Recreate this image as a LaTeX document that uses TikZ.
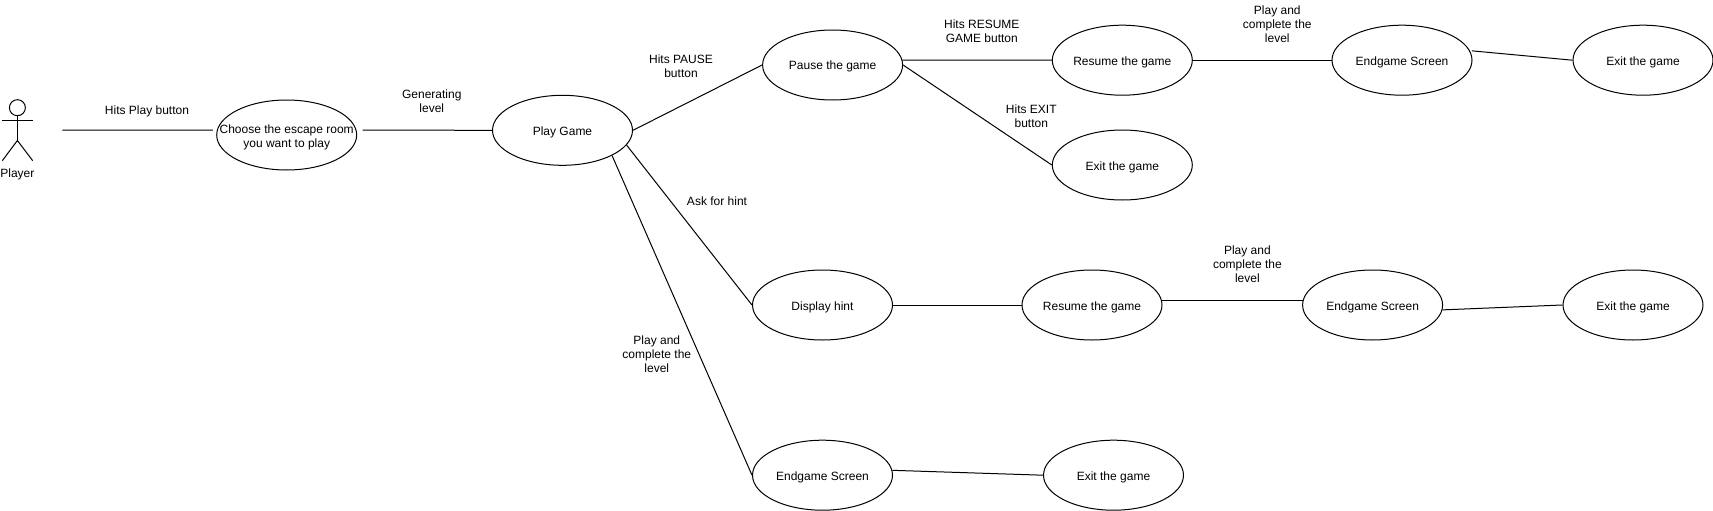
\documentclass[tikz,border=0pt]{standalone}
\usepackage{fontspec}
\setmainfont{Liberation Sans}
\usetikzlibrary{shapes.geometric}
\tikzset{
x=1pt,
y=-1pt,
every node/.style={font=\fontsize{12}{14}\selectfont},
usecase/.style={draw=black, ellipse, line width=1pt, minimum width=140pt, minimum height=70pt, inner sep=0pt, text height=12pt, text depth=2pt},
edgetext/.style={align=center, inner sep=0pt},
link/.style={draw=black, line width=1pt},
}
\begin{document}
\begin{tikzpicture}
    \useasboundingbox (0,0) rectangle (1713,511);
    \node[usecase] (choose) at (286.7,135) {};
    \node[edgetext] (choosetext) at (286.7,137.3) {Choose the escape room\\you want to play};
    \node[usecase] (play) at (562.5,130.3) {Play Game};
    \node[usecase] (pause) at (832.6,65) {Pause the game};
    \node[usecase] (resumeA) at (1122.3,60.2) {Resume the game};
    \node[usecase] (endA) at (1402,60.2) {Endgame Screen};
    \node[usecase] (exitA) at (1643,60.2) {Exit the game};
    \node[usecase] (exitB) at (1122.3,165) {Exit the game};
    \node[usecase] (hint) at (822.5,305) {Display hint};
    \node[usecase] (resumeC) at (1092,305) {Resume the game};
    \node[usecase] (endC) at (1372.6,305) {Endgame Screen};
    \node[usecase] (exitC) at (1633,305) {Exit the game};
    \node[usecase] (endD) at (822.5,475.2) {Endgame Screen};
    \node[usecase] (exitD) at (1113.5,475.2) {Exit the game};
    % player
    \draw[link] (17.4,107.7) circle (8);
    \draw[link] (17.4,115.7) -- (17.4,140.5);
    \draw[link] (2.3,120.3) -- (32.7,120.3);
    \draw[link] (2.3,160.7) -- (17.4,140.5) -- (32.7,160.7);
    \node[edgetext] (player) at (17.4,174.6) {Player};
    \coordinate (playerend) at (62.3,130.2);
    \draw[link, shorten >=4pt] (playerend) -- (choose.176);
    \draw[link, shorten <=6pt] (choose.4) -- (play.west);
    \draw[link] (play.east) -- (pause.west);
    \draw[link] (pause.4) -- (resumeA.west);
    \draw[link] (pause.east) -- (exitB.west);
    \draw[link] (resumeA.east) -- (endA.west);
    \draw[link, shorten <=2pt] (endA.8.6) -- (exitA.west);
    \draw[link] (play.-13) -- (hint.west);
    \draw[link] (play.-27.5) -- (endD.west);
    \draw[link] (hint.east) -- (resumeC.west);
    \draw[link] (resumeC.4) -- (endC.176);
    \draw[link] (endC.-4) -- (exitC.west);
    \draw[link] (endD.4) -- (exitD.west);
    % labels
    \node[edgetext] (hitsplay) at (147,111) {Hits Play button};
    \node[edgetext] (generating) at (431.8,101) {Generating\\level};
    \node[edgetext] (hitspause) at (681,66) {Hits PAUSE\\button};
    \node[edgetext] (hitsresume) at (981.8,30.8) {Hits RESUME\\GAME button};
    \node[edgetext] (hitsexit) at (1031.3,116.5) {Hits EXIT\\button};
    \node[edgetext] (completeA) at (1277.3,24) {Play and\\complete the\\level};
    \node[edgetext] (askhint) at (717,201) {Ask for hint};
    \node[edgetext] (completeC) at (1247.4,264) {Play and\\complete the\\level};
    \node[edgetext] (completeD) at (656.8,354.5) {Play and\\complete the\\level};
\end{tikzpicture}
\end{document}
